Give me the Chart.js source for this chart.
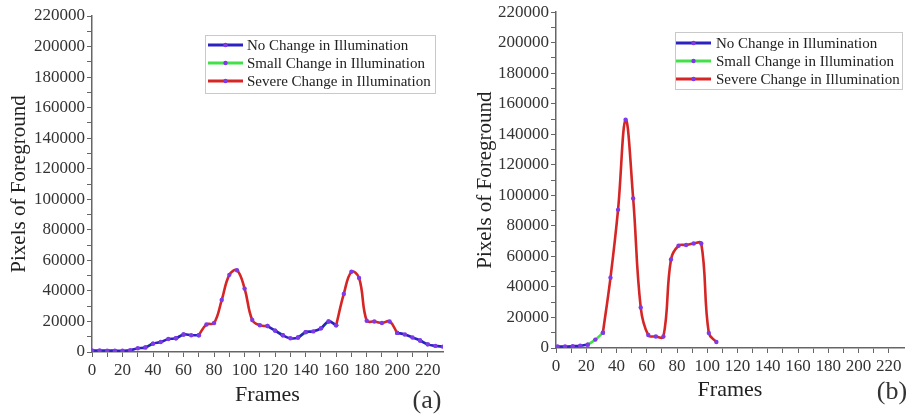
<!DOCTYPE html>
<html>
<head>
<meta charset="utf-8">
<script src="https://cdn.jsdelivr.net/npm/chart.js@4.4.1/dist/chart.umd.min.js"></script>
<style>
  html, body { margin: 0; padding: 0; background: #fff; }
  #wrap { position: relative; width: 908px; height: 416px; }
  canvas { position: absolute; top: 0; }
</style>
</head>
<body>
<div id="wrap">
  <canvas id="chartA" width="454" height="416" style="left:0"></canvas>
  <canvas id="chartB" width="454" height="416" style="left:454px"></canvas>
</div>
<script>
const seriesNames = ['No Change in Illumination', 'Small Change in Illumination', 'Severe Change in Illumination'];
const seriesColors = ['#2c22c2', '#44e04a', '#d52525'];
const markerColor = '#7d3ae6';

// panel (a)
const framesA = [0, 5, 10, 15, 20, 25, 30, 35, 40, 45, 50, 55, 60, 65, 70, 75, 80, 85, 90, 95,
  100, 105, 110, 115, 120, 125, 130, 135, 140, 145, 150, 155, 160, 165, 170, 175, 180, 185, 190, 195,
  200, 205, 210, 215, 220, 225, 230];
const pixelsA = [1000, 1000, 900, 900, 800, 1200, 2500, 3000, 5500, 6500, 8500, 9000, 11500, 11000, 11000, 18000, 19000, 34000, 50500, 53500,
  41500, 21000, 17500, 17000, 14000, 11000, 9000, 9500, 13000, 13500, 15500, 20000, 17500, 38000, 52500, 48500, 20500, 20000, 19000, 20000,
  12500, 11500, 9500, 7500, 5000, 4000, 3500];
// series drawing each stretch between two samples: 0 no change, 1 small, 2 severe
const segmentsA = [0, 0, 0, 0, 0, 0, 0, 1, 0, 0, 0, 1, 0, 0,
  2, 2, 2, 2, 2, 2, 2, 2, 2,
  0, 1, 0, 0, 1, 0, 0, 1, 0,
  2, 2, 2, 2, 2, 2, 2, 2,
  0, 0, 0, 1, 0, 0];

// panel (b)
const framesB = [1, 6, 11, 16, 21, 26, 31, 36, 41, 46, 51, 56, 61, 66, 71, 76, 81, 86, 91, 96, 101, 106];
const pixelsB = [1000, 1000, 1200, 1500, 2200, 5500, 10000, 46000, 90500, 149500, 98000, 26500, 8500, 7500, 7500, 58000,
  67000, 67500, 68500, 68500, 9800, 3900];
const segmentsB = [0, 0, 0, 0, 1, 1, 2, 2, 2, 2, 2, 2, 2, 2, 2, 2, 2, 2, 2, 2, 2];

const xTicks = [0, 20, 40, 60, 80, 100, 120, 140, 160, 180, 200, 220];
const yTicks = [0, 20000, 40000, 60000, 80000, 100000, 120000, 140000, 160000, 180000, 200000, 220000];

const SERIF = '"Liberation Serif", "DejaVu Serif", serif';

function buildDatasets(frames, values, segments) {
  return seriesNames.map((name, s) => ({
    label: name,
    data: frames.map((f, i) => {
      const on = segments[i - 1] === s || segments[i] === s;
      return { x: f, y: on ? values[i] : null };
    }),
    borderColor: seriesColors[s],
    borderWidth: 2.6,
    tension: 0.4,
    pointRadius: 2.2,
    pointBorderWidth: 0,
    pointBackgroundColor: markerColor,
    spanGaps: false
  }));
}

const boxLegend = {
  id: 'boxLegend',
  afterDraw(chart, args, opts) {
    const ctx = chart.ctx;
    ctx.save();
    ctx.strokeStyle = '#c9c9c9';
    ctx.lineWidth = 1;
    ctx.strokeRect(opts.x + 0.5, opts.y + 0.5, opts.w, opts.h);
    ctx.font = '15px ' + SERIF;
    ctx.textBaseline = 'middle';
    ctx.textAlign = 'left';
    chart.data.datasets.forEach((ds, i) => {
      const y = opts.y + opts.firstRow + i * opts.rowGap;
      const x0 = opts.x + opts.lineStart;
      ctx.strokeStyle = ds.borderColor;
      ctx.lineWidth = 3;
      ctx.beginPath();
      ctx.moveTo(x0, y);
      ctx.lineTo(x0 + opts.lineLen, y);
      ctx.stroke();
      ctx.fillStyle = markerColor;
      ctx.beginPath();
      ctx.arc(x0 + opts.lineLen / 2, y, 2.2, 0, Math.PI * 2);
      ctx.fill();
      ctx.fillStyle = '#222';
      ctx.fillText(ds.label, x0 + opts.lineLen + opts.textGap, y + 1);
    });
    if (opts.tag) {
      ctx.font = '26px ' + SERIF;
      ctx.textAlign = 'center';
      ctx.fillStyle = '#333';
      ctx.fillText(opts.tag, opts.tagX, opts.tagY);
    }
    ctx.restore();
  }
};

function makeChart(id, frames, values, segments, lay) {
  const ctx = document.getElementById(id).getContext('2d');
  return new Chart(ctx, {
    type: 'line',
    data: { datasets: buildDatasets(frames, values, segments) },
    options: {
      responsive: false,
      animation: false,
      parsing: true,
      layout: { padding: { left: 0, top: lay.top, right: lay.right, bottom: 0 } },
      plugins: {
        legend: { display: false },
        tooltip: { enabled: false },
        boxLegend: lay.legend
      },
      scales: {
        x: {
          type: 'linear',
          min: 0,
          max: 230,
          afterFit: s => { s.height = lay.xHeight; },
          afterBuildTicks: s => {
            s.ticks = [];
            for (let v = 0; v <= 220; v += 10) s.ticks.push({ value: v });
          },
          ticks: {
            autoSkip: false,
            maxRotation: 0,
            padding: 3,
            color: '#333',
            font: { family: SERIF, size: 17 },
            callback: v => xTicks.includes(v) ? String(v) : ''
          },
          grid: { drawOnChartArea: false, drawTicks: true, tickLength: 5, color: '#666', tickWidth: 1 },
          border: { display: true, color: '#666', width: 1.5 },
          title: {
            display: true,
            text: 'Frames',
            color: '#222',
            font: { family: SERIF, size: 22 },
            padding: { top: 0, bottom: lay.xTitlePad }
          }
        },
        y: {
          type: 'linear',
          min: 0,
          max: 220000,
          afterFit: s => { s.width = lay.yWidth; },
          afterBuildTicks: s => {
            s.ticks = [];
            for (let v = 0; v <= 220000; v += 10000) s.ticks.push({ value: v });
          },
          ticks: {
            autoSkip: false,
            padding: 2,
            color: '#333',
            font: { family: SERIF, size: 17 },
            callback: v => yTicks.includes(v) ? String(v) : ''
          },
          grid: { drawOnChartArea: false, drawTicks: true, tickLength: 5, color: '#666', tickWidth: 1 },
          border: { display: true, color: '#666', width: 1.5 },
          title: {
            display: true,
            text: 'Pixels of Foreground',
            color: '#222',
            font: { family: SERIF, size: 21 },
            padding: { top: lay.yTitlePad, bottom: 0 }
          }
        }
      }
    },
    plugins: [boxLegend]
  });
}

makeChart('chartA', framesA, pixelsA, segmentsA, {
  top: 16, right: 11, xHeight: 64, yWidth: 92, xTitlePad: 8, yTitlePad: 7,
  legend: { x: 205, y: 35, w: 230, h: 58, firstRow: 10, rowGap: 18, lineStart: 3, lineLen: 35, textGap: 4,
    tag: '(a)', tagX: 427, tagY: 401 }
});

makeChart('chartB', framesB, pixelsB, segmentsB, {
  top: 12, right: 0, xHeight: 68, yWidth: 102, xTitlePad: 13, yTitlePad: 19,
  legend: { x: 221, y: 32, w: 227, h: 57, firstRow: 11, rowGap: 18, lineStart: 1, lineLen: 35, textGap: 5,
    tag: '(b)', tagX: 438, tagY: 392 }
});
</script>
</body>
</html>
